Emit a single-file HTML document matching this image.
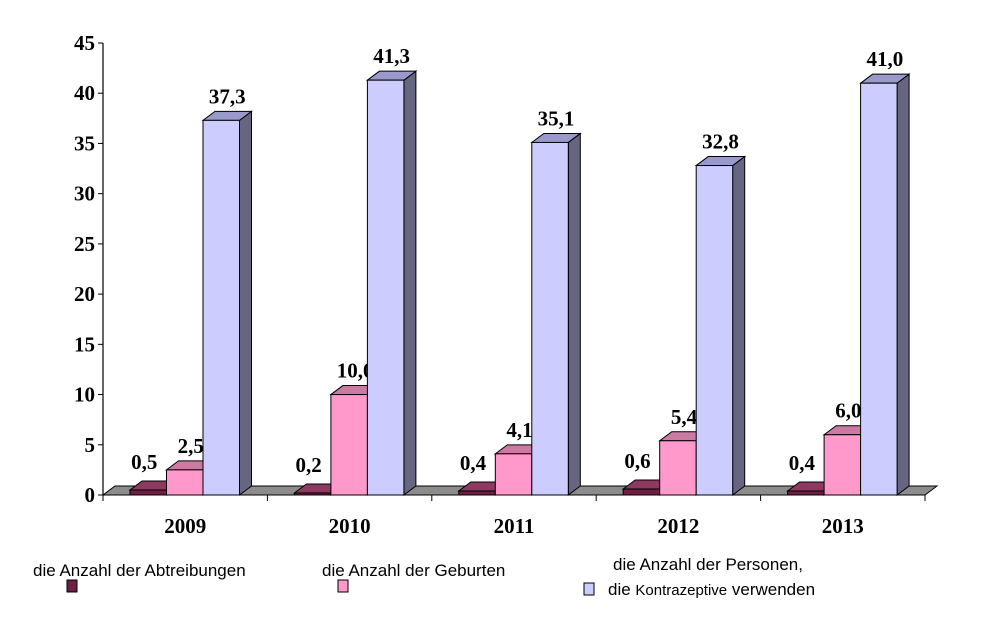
<!DOCTYPE html>
<html><head><meta charset="utf-8"><style>
body{margin:0;background:#fff;}
svg{display:block;}
.tick{font-family:"Liberation Serif",serif;font-weight:bold;font-size:21px;}
.lg{font-family:"Liberation Sans",sans-serif;font-size:17px;}
</style></head><body>
<svg id="c" width="1000" height="644" viewBox="0 0 1000 644"></svg>
<script>
const categories=["2009","2010","2011","2012","2013"];
const abortions=[0.5,0.2,0.4,0.6,0.4];
const births=[2.5,10.0,4.1,5.4,6.0];
const contraceptive=[37.3,41.3,35.1,32.8,41.0];
const abortionLabels=["0,5","0,2","0,4","0,6","0,4"];
const birthLabels=["2,5","10,0","4,1","5,4","6,0"];
const contraLabels=["37,3","41,3","35,1","32,8","41,0"];
const yTicks=[0,5,10,15,20,25,30,35,40,45];

const svg=document.getElementById('c');
const NS='http://www.w3.org/2000/svg';
const X0=103,X1=925,Y0=495,YMAX=45,YTOP=43,DX=12,DY=-9,BW=36.5;
const groupW=(X1-X0)/categories.length;
function y(v){return Y0-(v/YMAX)*(Y0-YTOP);}
function el(t,a,p){const e=document.createElementNS(NS,t);for(const k in a)e.setAttribute(k,a[k]);(p||svg).appendChild(e);return e;}

// floor
const floor=el('polygon',{points:`${X0},${Y0} ${X1},${Y0} ${X1+DX},${Y0+DY} ${X0+DX},${Y0+DY}`,fill:'#8c8c8c',stroke:'#000','stroke-width':1});



// axis
const ax=el('line',{x1:X0,y1:YTOP,x2:X0,y2:Y0,stroke:'#000','stroke-width':1.2});


yTicks.forEach(t=>{
  const yy=y(t);
  const tk=el('line',{x1:X0-5,y1:yy,x2:X0,y2:yy,stroke:'#000'});
  
  
  const tx=el('text',{x:X0-8,y:yy+7,'text-anchor':'end',class:'tick'});
  tx.textContent=t;
  
  
});
for(let i=0;i<=categories.length;i++){
  const xx=X0+i*groupW;
  const tk=el('line',{x1:xx,y1:Y0,x2:xx,y2:Y0+6,stroke:'#000'});
  
  
}
const series=[
  {vals:abortions,labs:abortionLabels,front:'#6e1e42',top:'#8e3a60',side:'#4a1028',name:'abortions'},
  {vals:births,labs:birthLabels,front:'#ff99cc',top:'#cc7aa3',side:'#a35c80',name:'births'},
  {vals:contraceptive,labs:contraLabels,front:'#ccccff',top:'#9999cc',side:'#666680',name:'contraceptive'}
];
categories.forEach((c,i)=>{
  const gx=X0+i*groupW;
  const lab=el('text',{x:gx+groupW/2,y:Y0+38,'text-anchor':'middle',class:'tick'});
  lab.textContent=c;
  
  
  series.forEach((s,j)=>{
    const bx=gx+27+j*BW, top=y(s.vals[i]);
    const g=el('g',{});
    
    
    el('polygon',{points:`${bx+BW},${Y0} ${bx+BW+DX},${Y0+DY} ${bx+BW+DX},${top+DY} ${bx+BW},${top}`,fill:s.side,stroke:'#000','stroke-width':1},g);
    el('polygon',{points:`${bx},${top} ${bx+BW},${top} ${bx+BW+DX},${top+DY} ${bx+DX},${top+DY}`,fill:s.top,stroke:'#000','stroke-width':1},g);
    el('rect',{x:bx,y:top,width:BW,height:Y0-top,fill:s.front,stroke:'#000','stroke-width':1},g);
    const vt=el('text',{x:bx+BW/2+DX/2-(j==0?10:0),y:top+DY-8-(j==0?4:0),'text-anchor':'middle',class:'tick'});
    vt.textContent=s.labs[i];
    
    
  });
});
// legend
function legend(name,lines,tx,ty,sx,sy,color){
  const g=el('g',{});
  
  
  el('rect',{x:sx,y:sy,width:10,height:12,fill:color,stroke:'#000','stroke-width':1},g);
  lines.forEach((l,k)=>{const t=el('text',{x:l[1]||tx,y:ty+k*25,class:'lg'},g);t.innerHTML=l[0];});
}
legend('legend-abortions',[["die Anzahl der Abtreibungen"]],33,576,67,580,'#6e1e42');
legend('legend-births',[["die Anzahl der Geburten"]],322,576,338,580,'#ff99cc');
legend('legend-contraceptive',[["die Anzahl der Personen,",613],["die <tspan font-size='15'>Kontrazeptive</tspan> verwenden",608]],613,570,584,583,'#ccccff');
</script>
</body></html>
